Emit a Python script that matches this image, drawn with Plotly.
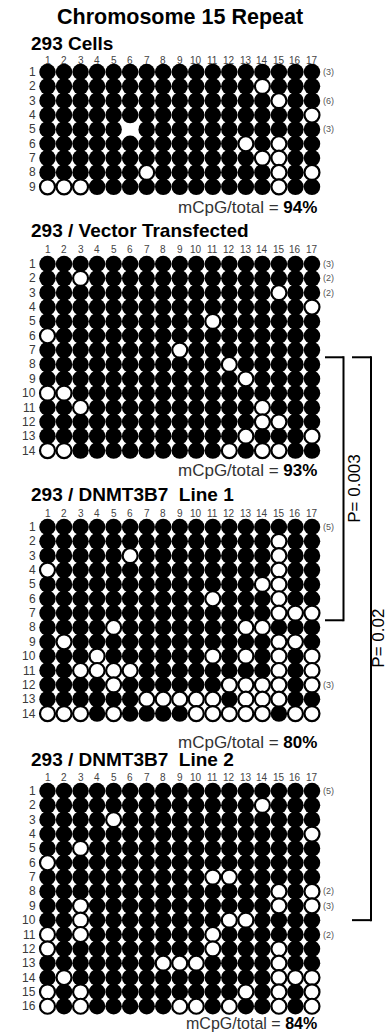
import plotly.graph_objects as go

# ---------------- data ----------------
COL_LABELS = [str(i) for i in range(1, 18)]
N_COLS = len(COL_LABELS)

MAIN_TITLE = "Chromosome 15 Repeat"
PANEL_TITLES = ["293 Cells", "293 / Vector Transfected",
                "293 / DNMT3B7  Line 1", "293 / DNMT3B7  Line 2"]
PANEL_PCTS = ["94%", "93%", "80%", "84%"]

# unmethylated (open circle) CpG columns for each clone (row)
P1_OPEN = [[], [14], [15], [17], [], [13, 15], [14, 15], [7, 15, 17], [1, 2, 3, 15]]
P2_OPEN = [[], [3], [15], [17], [11], [1], [9], [12], [13], [1, 2], [3, 14],
           [14, 15], [13, 17], [1, 2, 12, 14, 15]]
P3_OPEN = [[], [15], [6, 15], [1, 15], [14, 15], [11, 15], [15, 16, 17], [5, 13, 14],
           [2, 15, 16], [4, 11, 13, 15, 17], [3, 4, 5, 6, 15, 17], [5, 12, 13, 14, 15, 17],
           [7, 8, 9, 10, 11, 13, 14, 15], [1, 2, 3, 5, 10, 11, 12, 13, 14, 16, 17]]
P4_OPEN = [[], [14], [5], [17], [3], [1], [11, 12], [15, 17], [3, 15, 17], [3, 12, 13],
           [1, 3, 11], [1, 11, 15], [8, 9, 10, 15], [2, 15, 16, 17], [1, 3, 13, 15, 17],
           [1, 3, 9, 10, 12, 15, 17]]
PANEL_OPEN = [P1_OPEN, P2_OPEN, P3_OPEN, P4_OPEN]

# sites with no data (row, column)
P1_MISSING = [(5, 6)]
PANEL_MISSING = [P1_MISSING, [], [], []]

# clone multiplicity labels (row -> label)
P1_MULT = {1: "(3)", 3: "(6)", 5: "(3)"}
P2_MULT = {1: "(3)", 2: "(2)", 3: "(2)"}
P3_MULT = {1: "(5)", 12: "(3)"}
P4_MULT = {1: "(5)", 8: "(2)", 9: "(3)", 11: "(2)"}
PANEL_MULT = [P1_MULT, P2_MULT, P3_MULT, P4_MULT]

# significance brackets: (label, top panel, top row, bottom panel, bottom row)
BRACKET_LABELS = ["P= 0.003", "P= 0.02"]
BRACKET_SPANS = [(1, 7.5, 2, 7.5), (1, 7.5, 3, 10.0)]

# ---------------- layout geometry (pixels) ----------------
W, H = 390, 1032
COL1_PX, DX = 47.5, 16.53
DY = 14.35
ROW1_PX = [72, 264, 527, 791]
TITLE_PX = [43, 230, 494, 759]
COLLAB_PX = [60, 249, 513.5, 777]
PCT_PX = [207, 470, 742, 1023]
PCT_SIZE = [17, 17, 17, 16]

FONT = "Liberation Sans, Arial, Helvetica, sans-serif"

x_lo = 1 - COL1_PX / DX
x_hi = x_lo + W / DX


def xpx(col_px):
    return x_lo + col_px / DX


def row_at(p, px):
    return 1 + (px - ROW1_PX[p]) / DY


def ypaper(px):
    return 1 - px / H


fig = go.Figure()
annotations = []
shapes = []

for p in range(4):
    yname = "y" if p == 0 else f"y{p + 1}"
    opens = PANEL_OPEN[p]
    nrows = len(opens)
    missing = set(PANEL_MISSING[p])
    fx, fy, ox, oy = [], [], [], []
    for r, row_open in enumerate(opens, start=1):
        for c in range(1, N_COLS + 1):
            if (r, c) in missing:
                continue
            if c in row_open:
                ox.append(c)
                oy.append(r)
            else:
                fx.append(c)
                fy.append(r)
    fig.add_trace(go.Scatter(x=fx, y=fy, mode="markers", yaxis=yname, hoverinfo="skip",
                             marker=dict(size=16.5, color="black", line=dict(width=0)),
                             showlegend=False))
    fig.add_trace(go.Scatter(x=ox, y=oy, mode="markers", yaxis=yname, hoverinfo="skip",
                             marker=dict(size=15, color="white", line=dict(width=2.2, color="black")),
                             showlegend=False))

    yref = yname
    # column labels
    for c, lab in enumerate(COL_LABELS, start=1):
        annotations.append(dict(x=c, y=row_at(p, COLLAB_PX[p]), xref="x", yref=yref, text=lab,
                                showarrow=False, font=dict(family=FONT, size=10, color="#444"),
                                xanchor="center", yanchor="middle"))
    # row labels
    for r in range(1, nrows + 1):
        annotations.append(dict(x=xpx(37.5), y=r, xref="x", yref=yref, text=str(r),
                                showarrow=False, font=dict(family=FONT, size=12, color="#3a3a3a"),
                                xanchor="right", yanchor="middle"))
    # multiplicity labels
    for r, lab in PANEL_MULT[p].items():
        annotations.append(dict(x=xpx(321), y=r, xref="x", yref=yref, text=lab,
                                showarrow=False, font=dict(family=FONT, size=9, color="#555"),
                                xanchor="left", yanchor="middle"))
    # panel title
    annotations.append(dict(x=xpx(29), y=row_at(p, TITLE_PX[p]), xref="x", yref=yref,
                            text=f"<b>{PANEL_TITLES[p]}</b>", showarrow=False,
                            font=dict(family=FONT, size=19, color="black"),
                            xanchor="left", yanchor="middle"))
    # methylation percentage
    annotations.append(dict(x=xpx(319), y=row_at(p, PCT_PX[p]), xref="x", yref=yref,
                            text=f"<span style='color:#333'>mCpG/total = </span><b>{PANEL_PCTS[p]}</b>",
                            showarrow=False, font=dict(family=FONT, size=PCT_SIZE[p], color="black"),
                            xanchor="right", yanchor="middle"))

# main title
annotations.append(dict(x=xpx(180), y=ypaper(17), xref="x", yref="paper",
                        text=f"<b>{MAIN_TITLE}</b>", showarrow=False,
                        font=dict(family=FONT, size=21.5, color="black"),
                        xanchor="center", yanchor="middle"))

# brackets
BRACKET_X_PX = [(325, 343.5), (352, 371)]
BRACKET_TEXT_PX = [355, 379]
for (lab, (tp, tr, bp, br), (xa, xb), tx) in zip(BRACKET_LABELS, BRACKET_SPANS,
                                                 BRACKET_X_PX, BRACKET_TEXT_PX):
    ytop = ROW1_PX[tp] + (tr - 1) * DY
    ybot = ROW1_PX[bp] + (br - 1) * DY
    line = dict(color="black", width=2)
    shapes.append(dict(type="line", xref="x", yref="paper", x0=xpx(xa), x1=xpx(xb),
                       y0=ypaper(ytop), y1=ypaper(ytop), line=line))
    shapes.append(dict(type="line", xref="x", yref="paper", x0=xpx(xa), x1=xpx(xb),
                       y0=ypaper(ybot), y1=ypaper(ybot), line=line))
    shapes.append(dict(type="line", xref="x", yref="paper", x0=xpx(xb), x1=xpx(xb),
                       y0=ypaper(ytop - 1), y1=ypaper(ybot + 1), line=line))
    annotations.append(dict(x=xpx(tx), y=ypaper((ytop + ybot) / 2), xref="x", yref="paper",
                            text=lab, textangle=-90, showarrow=False,
                            font=dict(family=FONT, size=17, color="black"),
                            xanchor="center", yanchor="middle"))

layout_axes = {}
for p in range(4):
    key = "yaxis" if p == 0 else f"yaxis{p + 1}"
    top = 1 - ROW1_PX[p] / DY
    bottom = top + H / DY
    ax = dict(range=[bottom, top], visible=False, showgrid=False, zeroline=False,
              domain=[0, 1], fixedrange=True)
    if p > 0:
        ax.update(overlaying="y", anchor="x")
    layout_axes[key] = ax

fig.update_layout(
    width=W, height=H, autosize=False,
    margin=dict(l=0, r=0, t=0, b=0, pad=0),
    paper_bgcolor="white", plot_bgcolor="white",
    xaxis=dict(range=[x_lo, x_hi], visible=False, showgrid=False, zeroline=False,
               domain=[0, 1], fixedrange=True),
    annotations=annotations, shapes=shapes,
    **layout_axes,
)

fig.write_html("out.html", config={"displayModeBar": False})
